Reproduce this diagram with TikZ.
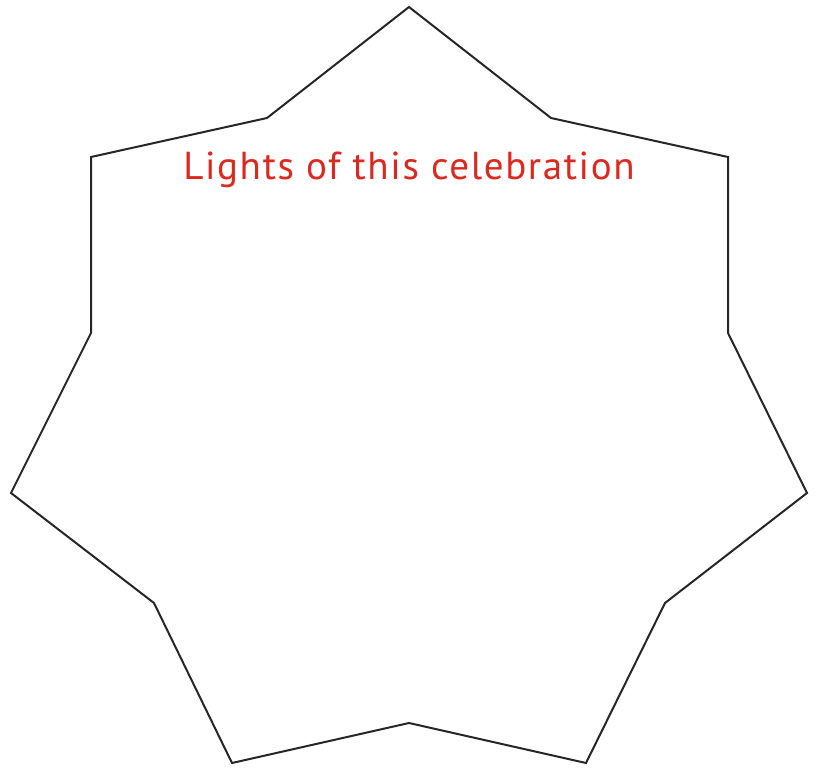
\documentclass[tikz,border=0pt]{standalone}
\usepackage{fontspec}
\setmainfont{PT Sans}[LetterSpace=4.2]
\definecolor{labelred}{RGB}{220,40,30}
\begin{document}
\begin{tikzpicture}[x=1pt,y=-1pt,
  outline/.style={draw=black!85,line width=2pt,line join=miter},
  title/.style={text=labelred,font=\fontsize{39}{44}\selectfont,inner sep=0pt,anchor=base}]
\useasboundingbox (0,0) rectangle (817,768);
\coordinate (o1) at (409,7);
\coordinate (i1) at (551,118);
\coordinate (o2) at (728,157);
\coordinate (i2) at (728,333);
\coordinate (o3) at (807,493);
\coordinate (i3) at (665,603);
\coordinate (o4) at (586,763);
\coordinate (i4) at (409,723);
\coordinate (o5) at (232,763);
\coordinate (i5) at (154,603);
\coordinate (o6) at (11,493);
\coordinate (i6) at (91,333);
\coordinate (o7) at (91,157);
\coordinate (i7) at (267,118);
\draw[outline] (o1) -- (i1) -- (o2) -- (i2) -- (o3) -- (i3) -- (o4) -- (i4) -- (o5) -- (i5) -- (o6) -- (i6) -- (o7) -- (i7) -- cycle;
\node[title] (t) at (409,179) {Lights of this celebration};
\end{tikzpicture}
\end{document}
